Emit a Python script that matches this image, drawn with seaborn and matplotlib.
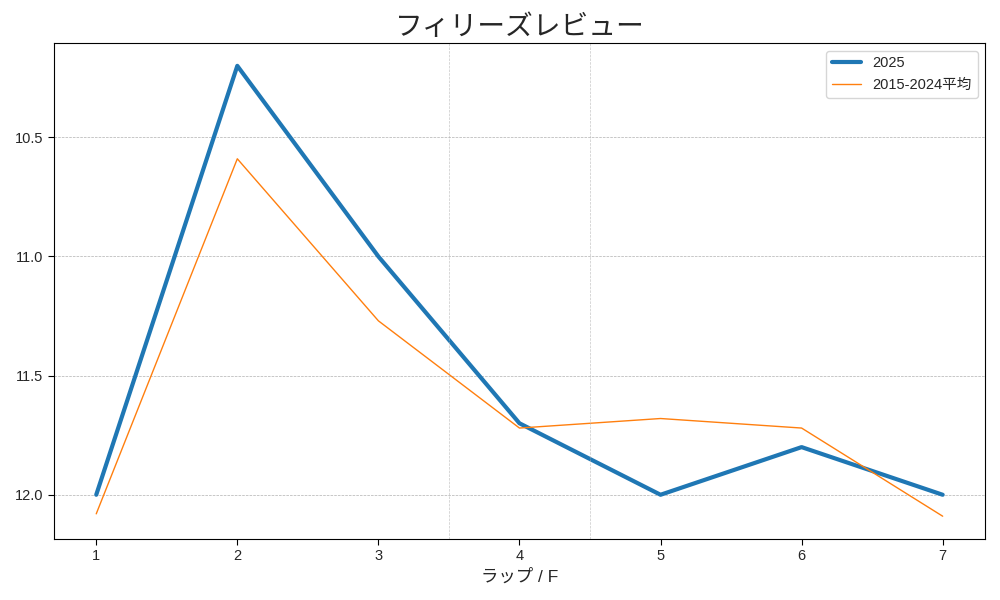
import matplotlib
matplotlib.use("Agg")
import matplotlib.pyplot as plt
import seaborn as sns
import pandas as pd

laps = [1, 2, 3, 4, 5, 6, 7]
times_2025 = [12.0, 10.2, 11.0, 11.7, 12.0, 11.8, 12.0]
times_avg = [12.08, 10.59, 11.27, 11.72, 11.68, 11.72, 12.09]
label_2025 = "2025"
label_avg = "2015-2024平均"

sns.set_style("white")
plt.rcParams['font.family'] = ['Liberation Sans', 'Noto Sans CJK JP', 'DejaVu Sans']

fig, ax = plt.subplots(figsize=(10, 6), dpi=100)
df1 = pd.DataFrame({"lap": laps, "t": times_2025})
df2 = pd.DataFrame({"lap": laps, "t": times_avg})
sns.lineplot(data=df1, x="lap", y="t", ax=ax, color="#1f77b4", linewidth=3, label=label_2025)
sns.lineplot(data=df2, x="lap", y="t", ax=ax, color="#ff7f0e", linewidth=1, label=label_avg)

ax.invert_yaxis()
ax.set_yticks([10.5, 11.0, 11.5, 12.0])
ax.set_xticks(laps)
ax.grid(axis="y", linestyle="--", linewidth=0.5, color="#b0b0b0")
ax.grid(axis="x", visible=False)
for xv in [3.5, 4.5]:
    ax.axvline(xv, linestyle="--", linewidth=0.5, color="#b0b0b0", alpha=0.7)
ax.set_title("フィリーズレビュー", fontsize=20)
ax.set_xlabel("ラップ / F", fontsize=12.5)
ax.set_ylabel("")
ax.legend(loc="upper right", fontsize=10.5)
for s in ax.spines.values():
    s.set_color("black")
ax.tick_params(axis="both", which="major", length=4, color="black", direction="out",
               bottom=True, left=True, labelsize=10.5)
fig.tight_layout()
fig.savefig("out.png")
